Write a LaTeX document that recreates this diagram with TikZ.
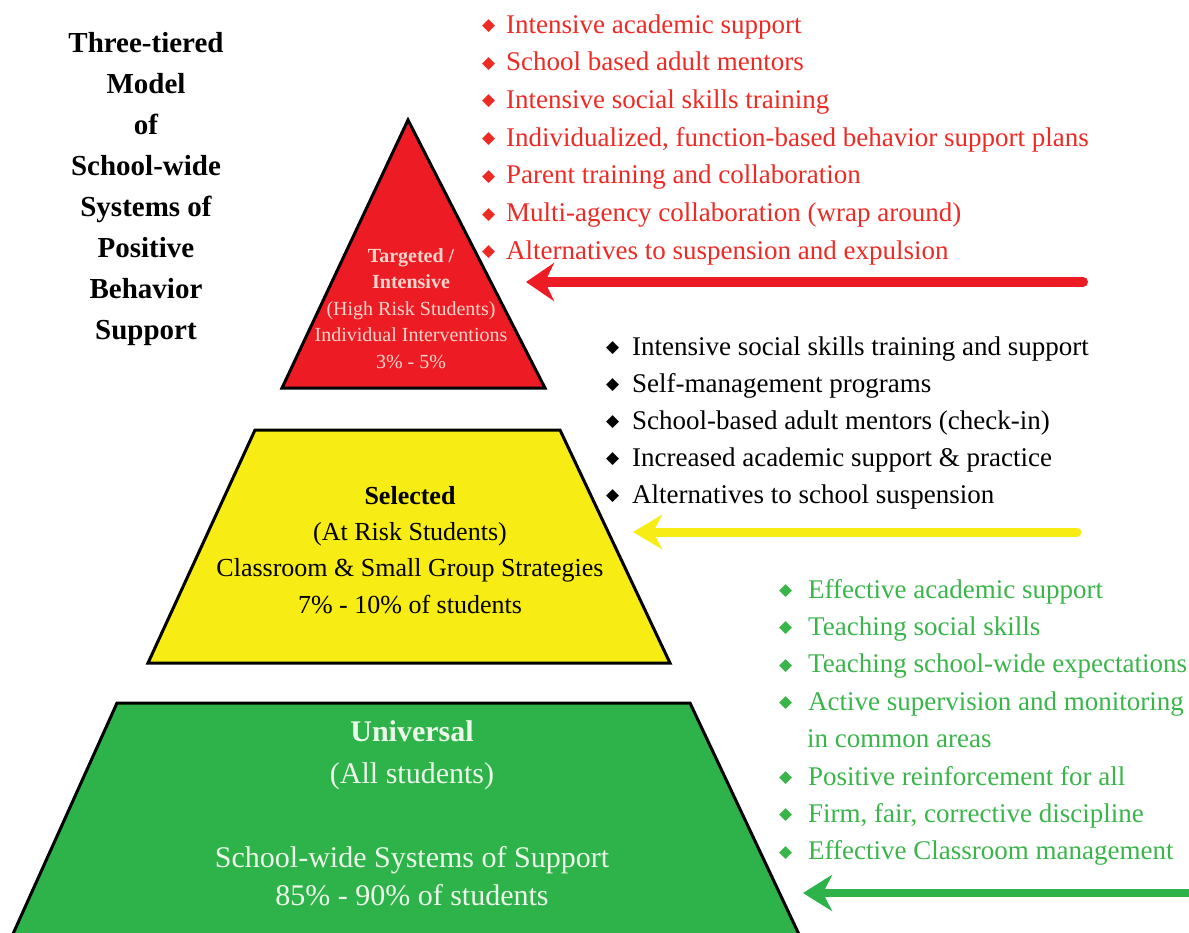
\documentclass[tikz,border=0pt]{standalone}
\usepackage{fontspec}
\setmainfont{Liberation Serif}
\newfontfamily\dv{DejaVu Sans}
\usetikzlibrary{arrows.meta}
\definecolor{tred}{HTML}{ED1C24}
\definecolor{tyel}{HTML}{F7EC13}
\definecolor{tgrn}{HTML}{2DB34A}
\definecolor{redtext}{HTML}{EE2A24}
\definecolor{grntext}{HTML}{3AB54A}
\definecolor{pinktext}{HTML}{FBD5CC}
\definecolor{palegrn}{HTML}{EEF8EA}
\newcommand{\bul}[1]{\makebox[#1][l]{\raisebox{2.5pt}{\dv\fontsize{17}{17}\selectfont ◆}}}
\begin{document}
\begin{tikzpicture}[x=1pt,y=-1pt,
  tier/.style={draw=black, line width=3pt, line join=miter},
  lbl/.style={anchor=base, inner sep=0pt},
  lst/.style={anchor=base west, inner sep=0pt, font=\fontsize{27}{30}\selectfont},
  redarrow/.style={draw=tred, line width=10pt, line cap=round, -{Stealth[length=28pt,width=38pt,inset=9pt]}},
  yelarrow/.style={draw=tyel, line width=9pt, line cap=round, -{Stealth[length=29pt,width=34pt,inset=9pt]}},
  grnarrow/.style={draw=tgrn, line width=8pt, line cap=round, -{Stealth[length=29pt,width=36pt,inset=9pt]}}]
\useasboundingbox (0,0) rectangle (1189,932);
\fill[white] (0,0) rectangle (1189,932);

% tiers
\coordinate (rA) at (408,120);
\coordinate (rL) at (282,388);
\coordinate (rR) at (545,388);
\path[tier, fill=tred] (rA) -- (rL) -- (rR) -- cycle;

\coordinate (yTL) at (255,430);
\coordinate (yTR) at (560,430);
\coordinate (yBR) at (670,663);
\coordinate (yBL) at (148,663);
\path[tier, fill=tyel] (yTL) -- (yTR) -- (yBR) -- (yBL) -- cycle;

\coordinate (gTL) at (117,703);
\coordinate (gTR) at (690,703);
\coordinate (gBR) at (804,945);
\coordinate (gBL) at (8,945);
\path[tier, fill=tgrn] (gTL) -- (gTR) -- (gBR) -- (gBL) -- cycle;

% title
\foreach \t [count=\i] in {Three-tiered,Model,of,School-wide,Systems of,Positive,Behavior,Support}
  \node[lbl, font=\fontsize{29}{32}\selectfont\bfseries] (title\i) at (146,{52+41*(\i-1)}) {\t};

% top tier text
\node[lbl, text=pinktext, font=\fontsize{20}{24}\selectfont\bfseries] (t1) at (411,262) {Targeted /};
\node[lbl, text=pinktext, font=\fontsize{20}{24}\selectfont\bfseries] (t2) at (411,288.5) {Intensive};
\node[lbl, text=pinktext, font=\fontsize{20}{24}\selectfont] (t3) at (411,315) {(High Risk Students)};
\node[lbl, text=pinktext, font=\fontsize{20}{24}\selectfont] (t4) at (411,341.5) {Individual Interventions};
\node[lbl, text=pinktext, font=\fontsize{20}{24}\selectfont] (t5) at (411,368) {3\% - 5\%};

% middle tier text
\node[lbl, font=\fontsize{26}{30}\selectfont\bfseries] (s1) at (410,504) {Selected};
\node[lbl, font=\fontsize{26}{30}\selectfont] (s2) at (410,540) {(At Risk Students)};
\node[lbl, font=\fontsize{26}{30}\selectfont] (s3) at (410,576) {Classroom \& Small Group Strategies};
\node[lbl, font=\fontsize{26}{30}\selectfont] (s4) at (410,613) {7\% - 10\% of students};

% bottom tier text
\node[lbl, text=palegrn, font=\fontsize{30}{34}\selectfont\bfseries] (u1) at (412,741) {Universal};
\node[lbl, text=palegrn, font=\fontsize{30}{34}\selectfont] (u2) at (412,783) {(All students)};
\node[lbl, text=palegrn, font=\fontsize{30}{34}\selectfont] (u3) at (412,867) {School-wide Systems of Support};
\node[lbl, text=palegrn, font=\fontsize{30}{34}\selectfont] (u4) at (412,905) {85\% - 90\% of students};

% red list
\foreach \t [count=\i] in {Intensive academic support,School based adult mentors,Intensive social skills training,{Individualized, function-based behavior support plans},Parent training and collaboration,Multi-agency collaboration (wrap around),Alternatives to suspension and expulsion}
  \node[lst, text=redtext] (r\i) at (482,{33+37.7*(\i-1)}) {\bul{24pt}\t};

% black list
\foreach \t [count=\i] in {Intensive social skills training and support,Self-management programs,School-based adult mentors (check-in),Increased academic support \& practice,Alternatives to school suspension}
  \node[lst] (b\i) at (606,{355+37*(\i-1)}) {\bul{26pt}\t};

% green list
\foreach \t [count=\i] in {Effective academic support,Teaching social skills,Teaching school-wide expectations,Active supervision and monitoring,\makebox[28pt]{}in common areas,Positive reinforcement for all,{Firm, fair, corrective discipline},Effective Classroom management}
  \node[lst, text=grntext] (g\i) at (779,{598+37.4*(\i-1)}) {\ifnum\i=5\else\bul{29pt}\fi\t};

% arrows
\coordinate (raS) at (1083,282);
\coordinate (raE) at (526,282);
\draw[redarrow] (raS) -- (raE);
\coordinate (yaS) at (1077,532);
\coordinate (yaE) at (633,532);
\draw[yelarrow] (yaS) -- (yaE);
\coordinate (gaS) at (1200,893);
\coordinate (gaE) at (803,893);
\draw[grnarrow] (gaS) -- (gaE);
\end{tikzpicture}
\end{document}
